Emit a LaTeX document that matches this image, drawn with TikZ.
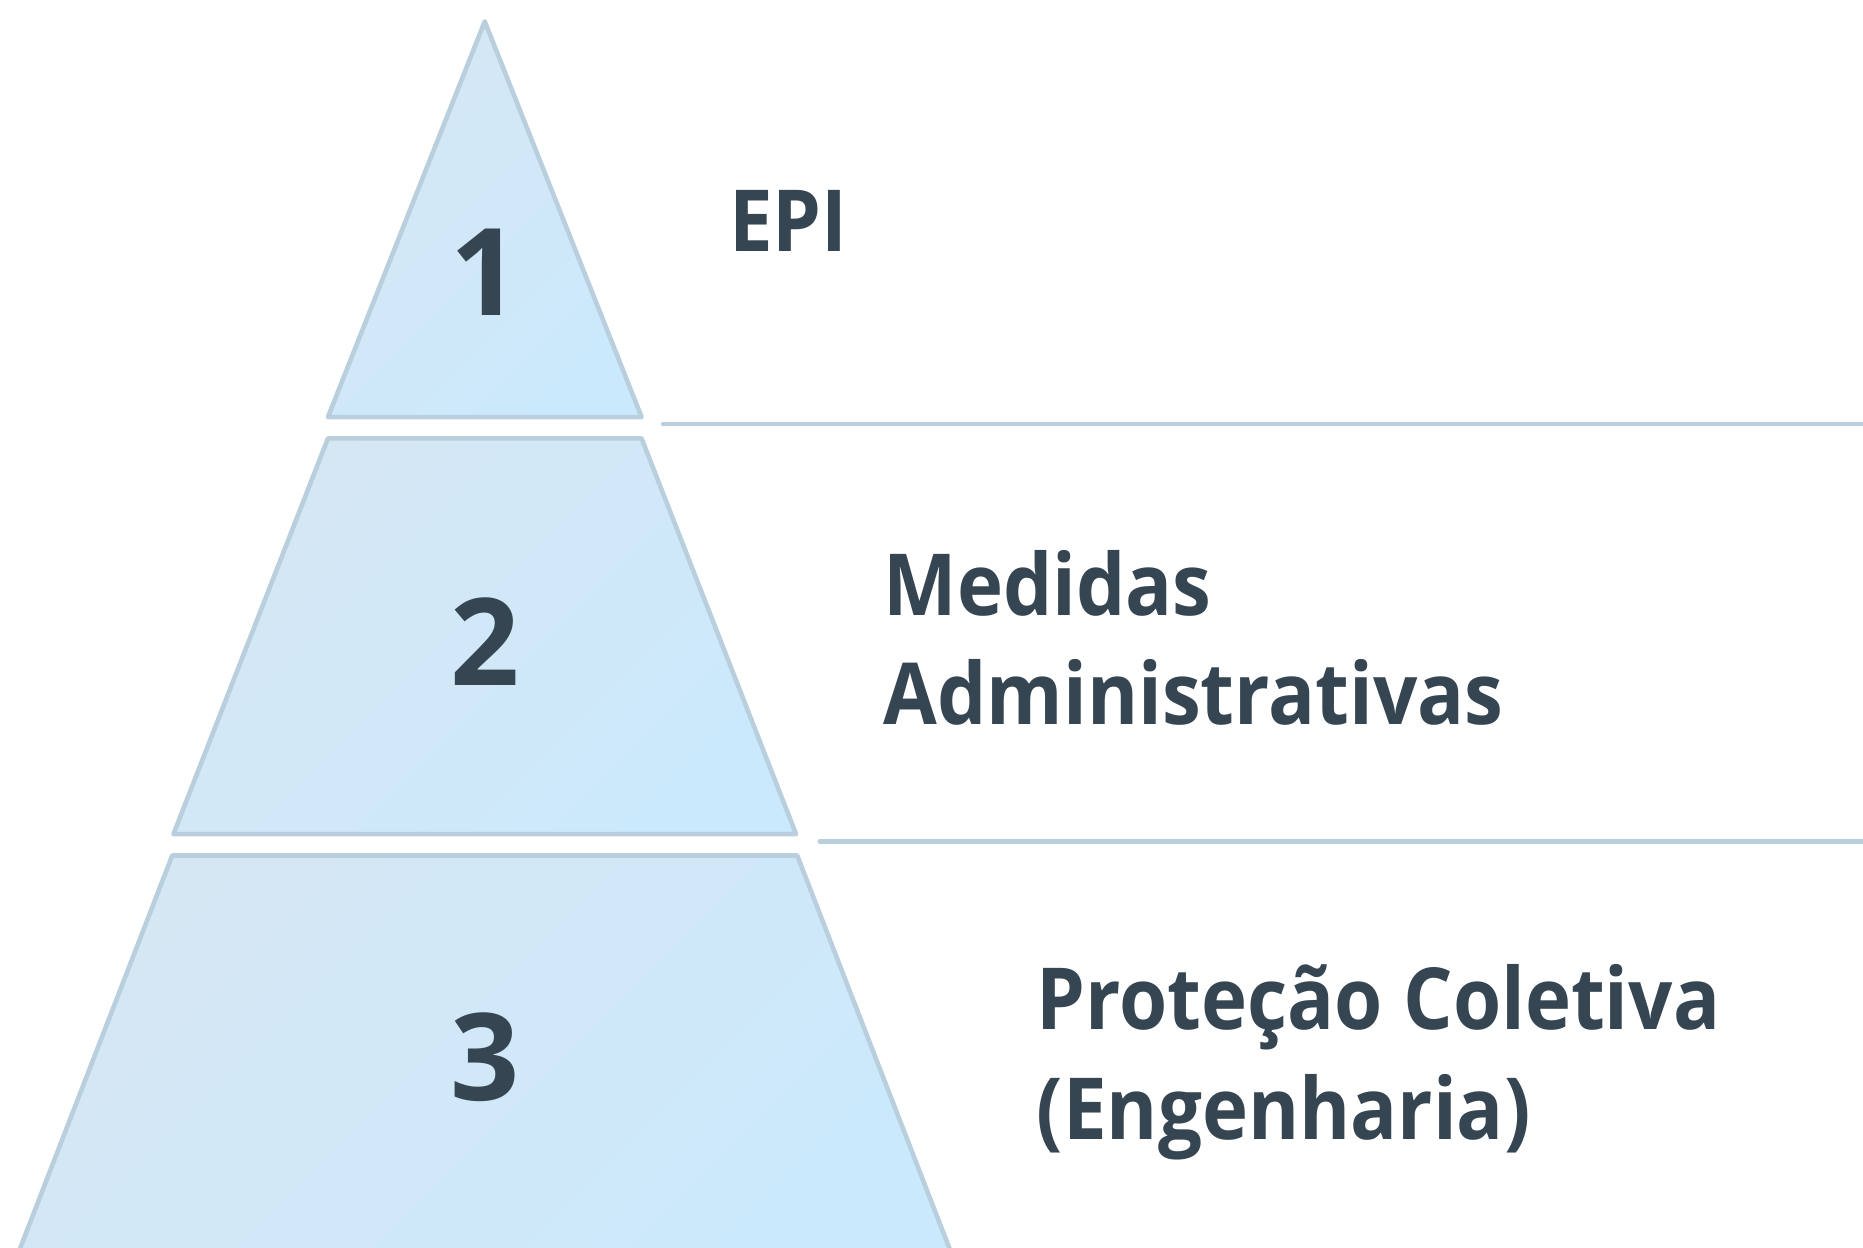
\documentclass[tikz,border=0pt]{standalone}
\usepackage{fontspec}
\setmainfont{Open Sans}
\newfontfamily\labelfont[FakeStretch=0.91]{Open Sans}
\usetikzlibrary{
  calc,
  positioning,
}
\definecolor{layerfillA}{HTML}{D6E7F4}
\definecolor{layerfillB}{HTML}{CBE9FC}
\definecolor{layeredge}{HTML}{B9CFDE}
\definecolor{labeltext}{HTML}{364552}
\tikzset{
  layer/.style={draw=layeredge, line width=1.1pt, line join=round,
    top color=layerfillA, bottom color=layerfillB, shading angle=45},
  divider/.style={draw=layeredge, line width=1.1pt, line cap=round},
  levelnum/.style={text=labeltext, inner sep=0pt,
    font=\fontsize{29}{29}\selectfont\bfseries},
  levelname/.style={text=labeltext, inner sep=0pt, align=left, anchor=west,
    font=\labelfont\fontsize{20.5}{26.2}\selectfont\bfseries},
}

\begin{document}
\begin{tikzpicture}[x=0.01cm, y=-0.01cm]
  \useasboundingbox (0, 0) rectangle (1568, 1050);

  % pyramid layers, top to bottom
  \foreach \n/\ytop/\wtop/\wbot/\ynum in {1/18/0/132/229, 2/369/132/262/540, 3/720/263/392/890}
  {
    \draw [layer] (408-\wtop, \ytop) -- (408+\wtop, \ytop)
      -- (408+\wbot, \ytop+333) -- (408-\wbot, \ytop+333) -- cycle;
    \node [levelnum] (num\n) at (408, \ynum) {\n};
  }

  \node [levelname] (epi) at (613, 186) {EPI};
  \node [levelname] (adm) at (743, 537) {Medidas\\Administrativas};
  \node [levelname] (eng) at (872, 894) {Proteção Coletiva\\(Engenharia)};

  \coordinate (cut1) at (558, 357);
  \coordinate (cut1end) at (1580, 357);
  \coordinate (cut2) at (690, 708);
  \coordinate (cut2end) at (1580, 708);
  \draw [divider] (cut1) -- (cut1end);
  \draw [divider] (cut2) -- (cut2end);
\end{tikzpicture}
\end{document}
